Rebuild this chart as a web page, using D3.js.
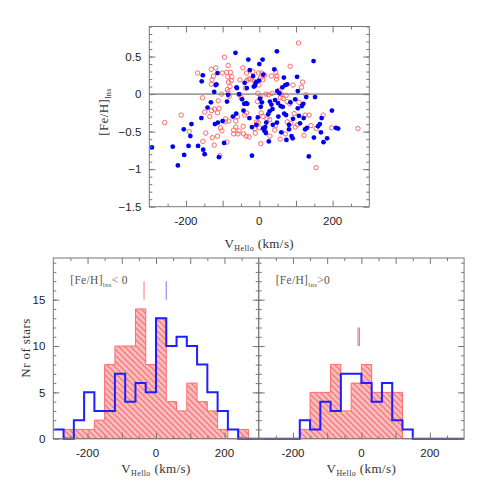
<!DOCTYPE html>
<meta charset="utf-8">
<style>
    body { margin: 0; background: #fff; }
    .tick text { font-family: "Liberation Sans", Arial, sans-serif; font-size: 11.5px; fill: #222; }
    .tick line { stroke: #777; }
    .frame { fill: none; stroke: #777; stroke-width: 1px; }
    .ticklab { font-family: "Liberation Sans", Arial, sans-serif; font-size: 11.5px; fill: #222; }
    .title { font-family: "Liberation Serif", "Times New Roman", serif; font-size: 13px; fill: #333; letter-spacing: 0.4px; }
    .panel-note { font-family: "Liberation Serif", "Times New Roman", serif; font-size: 11.5px; fill: #555; letter-spacing: 0.3px; }
</style>
<body>
    <svg width="491" height="491"></svg>
</body>
<script src="https://d3js.org/d3.v7.min.js"></script>
<script>

    // scatter: [V_helio, [Fe/H]_lns]
    var bluePts = [
        [-293,-0.71],[-236,-0.70],[-222,-0.95],[-205,-0.81],[-206,-0.47],[-188,-0.56],[-185,-0.40],[-193,-0.69],
        [-167,-0.69],[-153,-0.74],[-149,-0.80],[-158,-0.32],[-154,0.25],[-157,0.17],[-141,-0.18],[-132,-0.11],
        [-123,0.03],[-119,0.12],[-114,0.28],[-110,-0.84],[-96,-0.65],[-121,-0.40],[-113,-0.38],[-100,-0.36],
        [-88,-0.10],[-85,-0.01],[-65,0.55],[-61,0.08],[-63,-0.26],[-55,0.00],[-62,0.09],[-47,-0.07],
        [-40,0.15],[-36,-0.12],[-33,-0.13],[-41,-0.13],[-34,0.08],[-30,0.46],[-26,0.32],[-17,0.24],
        [-15,0.10],[-12,0.11],[-10,0.15],[0,0.40],[9,0.46],[11,0.26],[-1,0.18],[-8,0.16],
        [-43,-0.22],[-27,-0.32],[-20,-0.82],[-20,-0.44],[-8,-0.41],[-4,-0.31],[4,-0.17],[7,-0.11],
        [10,-0.46],[16,-0.44],[14,-0.49],[18,-0.52],[24,-0.27],[19,-0.38],[29,-0.10],[28,-0.23],
        [33,-0.14],[37,-0.41],[41,0.33],[48,0.57],[49,0.04],[43,-0.08],[51,-0.12],[55,0.01],
        [52,-0.30],[58,-0.16],[64,-0.17],[67,0.22],[63,0.09],[71,0.12],[76,0.13],[68,-0.26],
        [73,-0.28],[60,-0.51],[48,-0.38],[26,-0.63],[74,-0.61],[81,-0.47],[81,-0.41],[85,-0.11],
        [88,-0.56],[91,-0.59],[98,-0.07],[103,0.23],[105,0.04],[105,-0.19],[108,-0.29],[111,-0.39],
        [116,-0.16],[120,-0.13],[121,-0.32],[125,-0.47],[130,-0.45],[128,-0.04],[135,-0.83],[148,0.44],
        [152,-0.04],[149,-0.58],[160,-0.43],[165,-0.40],[168,-0.51],[170,-0.32],[175,-0.64],[185,-0.59],
        [198,-0.22],[209,-0.45],[215,-0.46],[-117,0.13],[-72,-0.30],[2,-0.06],[36,-0.20],[92,-0.33]
    ];
    var redPts = [
        [-258,-0.38],[-213,-0.28],[-191,-0.50],[-168,0.28],[-155,-0.05],[-149,-0.24],[-154,-0.63],[-146,-0.52],
        [-131,0.33],[-119,0.35],[-125,0.24],[-129,0.19],[-131,0.13],[-135,-0.30],[-130,-0.22],[-122,-0.20],
        [-114,-0.25],[-110,-0.19],[-128,-0.58],[-114,-0.56],[-106,-0.45],[-102,-0.49],[-123,-0.68],[-108,-0.82],
        [-88,-0.64],[-112,-0.09],[-103,0.00],[-101,0.28],[-95,0.49],[-85,0.38],[-86,0.23],[-89,0.29],
        [-79,0.29],[-75,0.23],[-76,0.18],[-84,0.16],[-80,0.10],[-87,0.06],[-85,0.03],[-82,-0.03],
        [-92,-0.33],[-83,-0.36],[-93,-0.37],[-70,-0.48],[-64,-0.36],[-64,-0.44],[-60,-0.30],[-55,-0.01],
        [-53,0.19],[-49,-0.05],[-45,0.35],[-35,0.28],[-34,0.18],[-29,0.20],[-38,0.08],[-25,0.20],
        [-13,0.17],[-70,-0.53],[-58,-0.53],[-55,-0.49],[-44,-0.43],[-43,-0.53],[-36,-0.56],[-28,-0.57],
        [-35,-0.25],[-40,-0.28],[-11,-0.52],[-13,-0.46],[4,-0.66],[-8,-0.37],[-18,0.30],[-2,0.28],
        [7,0.28],[15,0.25],[3,0.21],[9,0.19],[-1,0.12],[-4,0.01],[-5,-0.10],[3,-0.04],
        [18,0.00],[25,-0.01],[35,0.01],[5,-0.25],[10,-0.30],[21,-0.33],[28,-0.34],[-3,-0.38],
        [1,-0.45],[16,-0.49],[29,-0.56],[42,-0.48],[33,0.24],[45,0.29],[47,0.20],[48,0.24],
        [53,0.05],[60,0.00],[73,-0.02],[76,-0.10],[57,-0.05],[65,-0.06],[84,0.37],[92,0.12],
        [115,0.09],[118,0.16],[108,-0.11],[127,-0.01],[125,-0.28],[136,-0.28],[141,-0.42],[155,-0.46],
        [174,-0.28],[197,-0.45],[98,-0.44],[86,-0.39],[76,-0.37],[104,-0.41],[57,-0.60],[107,0.68],
        [155,-0.98],[269,-0.46],[122,-0.55],[71,-0.53],[44,-0.42],[83,-0.13],[95,-0.26]
    ];

    // histograms: 30 km/s bins from -300 to 300
    var binEdges = d3.range(-300, 301, 30);
    var redNeg  = [0,1,1,1,2,8,10,10,14,8,13,4,3,6,4,3,1,0,1,0];
    var blueNeg = [1,0,2,5,3,3,7,4,6,5,13,10,11,10,8,5,3,1,0,0];
    var redPos  = [0,0,0,0,1,5,5,8,3,6,8,5,5,5,0,0,0,0,0,0];
    var bluePos = [0,0,0,0,2,1,4,3,7,7,6,4,6,2,1,0,0,0,0,0];

    // mean velocity marks [v, from count, to count]
    var meanNeg = { red: [-35, 15, 17], blue: [30, 15, 17] };
    var meanPos = { red: [-10, 10, 12], blue: [-6, 10, 12] };

    var xTickLabels = [-200, 0, 200];
    var yTicksTop = [-1.5, -1, -0.5, 0, 0.5];
    var yTicksHist = [0, 5, 10, 15];

    var svg = d3.select("svg");

    var pat = svg.append("defs").append("pattern")
        .attr("id", "hatch")
        .attr("patternUnits", "userSpaceOnUse")
        .attr("width", 6).attr("height", 6);
    pat.append("rect").attr("width", 6).attr("height", 6).attr("fill", "#ffbcbc");
    pat.append("path")
        .attr("d", "M-1,-1 L7,7 M-4,2 L1,7 M2,-4 L7,1")
        .attr("stroke", "#f27a7a").attr("stroke-width", 1.3);

    // ticks pointing inward on all four sides, plus the box
    function frameTicks(g, x, y, o) {
        var x0 = x.range()[0], x1 = x.range()[1], y0 = y.range()[0], y1 = y.range()[1];
        [[d3.axisBottom, y0], [d3.axisTop, y1]].forEach(function (a) {
            g.append("g").attr("transform", "translate(0," + a[1] + ")")
                .call(a[0](x).tickValues(o.xMinor).tickSize(-3).tickFormat(""));
            g.append("g").attr("transform", "translate(0," + a[1] + ")")
                .call(a[0](x).tickValues(o.xMajor).tickSize(-6).tickFormat(""));
        });
        g.append("g").attr("transform", "translate(" + x0 + ",0)")
            .call(d3.axisLeft(y).tickValues(o.yMinor).tickSize(-3).tickFormat(""));
        g.append("g").attr("transform", "translate(" + x0 + ",0)")
            .call(d3.axisLeft(y).tickValues(o.yMajor).tickSize(-6).tickPadding(8)
                .tickFormat(o.yLabels ? d3.format("") : ""));
        g.append("g").attr("transform", "translate(" + x1 + ",0)")
            .call(d3.axisRight(y).tickValues(o.yMinor).tickSize(-3).tickFormat(""));
        g.append("g").attr("transform", "translate(" + x1 + ",0)")
            .call(d3.axisRight(y).tickValues(o.yMajor).tickSize(-6).tickFormat(""));
        g.selectAll(".domain").remove();
        g.append("rect").attr("class", "frame")
            .attr("x", x0).attr("y", y1)
            .attr("width", x1 - x0).attr("height", y0 - y1);
    }

    function xLabels(g, x, ty) {
        g.append("g").selectAll("text").data(xTickLabels).enter().append("text")
            .attr("class", "ticklab")
            .attr("x", function (d) { return x(d); })
            .attr("y", ty)
            .attr("text-anchor", "middle")
            .text(function (d) { return d; });
    }

    function vTitle(g, cx, cy) {
        var t = g.append("text").attr("class", "title")
            .attr("x", cx).attr("y", cy).attr("text-anchor", "middle");
        t.append("tspan").text("V");
        t.append("tspan").attr("dy", 3).attr("font-size", "8px").text("Hello");
        t.append("tspan").attr("dy", -3).text(" (km/s)");
    }

    // ---------- top scatter ----------
    var xTop = d3.scaleLinear().domain([-300, 300]).range([149.3, 369.3]);
    var yTop = d3.scaleLinear().domain([-1.5, 0.9]).range([206.7, 26.5]);
    var gTop = svg.append("g");

    gTop.append("line")
        .attr("x1", xTop(-300)).attr("x2", xTop(300))
        .attr("y1", yTop(0)).attr("y2", yTop(0))
        .attr("stroke", "#555").attr("stroke-width", 1);

    gTop.selectAll(".red").data(redPts).enter().append("circle")
        .attr("cx", function (d) { return xTop(d[0]); })
        .attr("cy", function (d) { return yTop(d[1]); })
        .attr("r", 2.2)
        .attr("fill", "none").attr("stroke", "#ff5a5a").attr("stroke-width", 0.9);

    gTop.selectAll(".blue").data(bluePts).enter().append("circle")
        .attr("cx", function (d) { return xTop(d[0]); })
        .attr("cy", function (d) { return yTop(d[1]); })
        .attr("r", 2.4)
        .attr("fill", "#0000f0");

    frameTicks(gTop, xTop, yTop, {
        xMajor: [-200, -100, 0, 100, 200],
        xMinor: d3.range(-250, 300, 100),
        yMajor: yTicksTop,
        yMinor: d3.range(-14, 10).map(function (i) { return i / 10; }),
        yLabels: true
    });
    xLabels(gTop, xTop, 225);
    vTitle(gTop, xTop(0), 248);

    var yl = gTop.append("text").attr("class", "title")
        .attr("transform", "translate(108,112) rotate(-90)")
        .attr("text-anchor", "middle");
    yl.append("tspan").text("[Fe/H]");
    yl.append("tspan").attr("dy", 3).attr("font-size", "8px").text("lns");

    // ---------- bottom histograms ----------
    var yB = d3.scaleLinear().domain([0, 19.5]).range([438.7, 258]);

    var stepLine = function (x) {
        return d3.line()
            .x(function (d) { return x(d[0]); })
            .y(function (d) { return yB(d[1]); });
    };

    function steps(counts) {
        var pts = [];
        counts.forEach(function (c, i) {
            pts.push([binEdges[i], c]);
            pts.push([binEdges[i + 1], c]);
        });
        return pts;
    }

    function histPanel(x, red, blue, mean, label, showY) {
        var g = svg.append("g");
        var line = stepLine(x);

        var area = [[binEdges[0], 0]].concat(steps(red), [[binEdges[binEdges.length - 1], 0]]);
        g.append("path").attr("d", line(area) + "Z")
            .attr("fill", "url(#hatch)").attr("stroke", "#ff6b6b").attr("stroke-width", 1);

        g.append("path").attr("d", line(steps(blue)))
            .attr("fill", "none").attr("stroke", "#1f1fff").attr("stroke-width", 2);

        [[mean.red, "#ff8c8c"], [mean.blue, "#8c8cff"]].forEach(function (m) {
            g.append("line")
                .attr("x1", x(m[0][0])).attr("x2", x(m[0][0]))
                .attr("y1", yB(m[0][1])).attr("y2", yB(m[0][2]))
                .attr("stroke", m[1]).attr("stroke-width", 1.2);
        });

        frameTicks(g, x, yB, {
            xMajor: [-200, -100, 0, 100, 200],
            xMinor: d3.range(-250, 300, 100),
            yMajor: yTicksHist,
            yMinor: d3.range(1, 20),
            yLabels: showY
        });
        xLabels(g, x, 457);
        vTitle(g, x(0), 473);

        var note = g.append("text").attr("class", "panel-note")
            .attr("x", x(-300) + 17).attr("y", 284);
        note.append("tspan").text("[Fe/H]");
        note.append("tspan").attr("dy", 3).attr("font-size", "7px").text("lns");
        note.append("tspan").attr("dy", -3).text(label);
    }

    var xL = d3.scaleLinear().domain([-300, 300]).range([53.3, 258.7]);
    var xR = d3.scaleLinear().domain([-300, 300]).range([258.7, 464.1]);
    histPanel(xL, redNeg, blueNeg, meanNeg, "< 0", true);
    histPanel(xR, redPos, bluePos, meanPos, ">0", false);

    svg.append("text").attr("class", "title")
        .attr("transform", "translate(30,348) rotate(-90)")
        .attr("text-anchor", "middle")
        .text("Nr of stars");
</script>
